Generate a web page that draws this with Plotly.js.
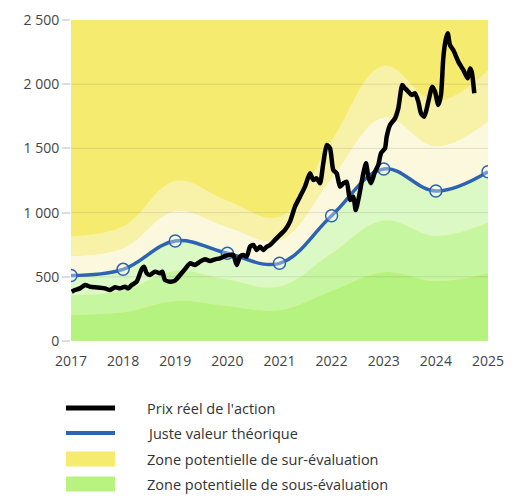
<!DOCTYPE html>
<html>
<head>
<meta charset="utf-8">
<script src="https://cdn.plot.ly/plotly-3.0.1.min.js"></script>
<style>
html,body{margin:0;padding:0;background:#fff;}
#chart{width:529px;height:500px;}
</style>
</head>
<body>
<div id="chart"></div>
<script>
// ---- Data ----
const years = [2017, 2018, 2019, 2020, 2021, 2022, 2023, 2024, 2025];
const fairValue = [510, 558, 779, 683, 605, 976, 1340, 1168, 1318];
const band40 = [204, 223, 312, 273, 242, 390, 536, 467, 527];
const band70 = [357, 391, 545, 478, 424, 683, 938, 818, 923];
const band130 = [663, 725, 1013, 888, 787, 1269, 1742, 1518, 1713];
const band160 = [816, 893, 1246, 1093, 968, 1562, 2144, 1869, 2109];

const priceX = [2017.013,2017.077,2017.173,2017.269,2017.365,2017.460,2017.556,2017.652,2017.748,2017.844,2017.940,
2018.036,2018.099,2018.165,2018.260,2018.356,2018.400,2018.452,2018.516,2018.612,2018.707,2018.752,2018.803,2018.899,2018.995,
2019.091,2019.187,2019.283,2019.379,2019.475,2019.571,2019.667,2019.763,2019.859,2019.954,
2020.050,2020.114,2020.179,2020.242,2020.306,2020.371,2020.434,2020.497,2020.563,2020.626,2020.689,2020.754,2020.818,2020.914,
2021.010,2021.106,2021.201,2021.297,2021.393,2021.489,2021.585,2021.648,2021.714,2021.777,2021.840,2021.906,2021.969,
2022.032,2022.097,2022.161,2022.224,2022.289,2022.353,2022.416,2022.462,2022.525,2022.608,2022.660,2022.704,2022.755,2022.832,2022.895,2022.947,
2023.024,2023.056,2023.120,2023.216,2023.279,2023.356,2023.408,2023.471,2023.536,2023.600,2023.663,2023.715,2023.778,2023.855,2023.931,2023.983,
2024.047,2024.098,2024.142,2024.188,2024.227,2024.271,2024.334,2024.430,2024.526,2024.611,2024.655,2024.687,2024.737];
const priceY = [384,397,410,436,423,418,415,410,397,418,410,
423,410,436,462,560,579,527,514,540,527,540,475,462,470,
514,560,605,592,618,636,623,636,644,662,
670,670,592,657,670,657,734,748,709,734,709,734,748,787,
826,865,930,1046,1124,1202,1306,1254,1267,1228,1384,1527,1501,
1332,1306,1202,1228,1241,1098,1124,1020,1124,1306,1384,1280,1228,1319,1371,1462,
1501,1590,1682,1734,1812,1994,1968,1942,1916,1929,1864,1773,1747,1864,1981,1942,
1838,1916,2202,2344,2396,2305,2266,2176,2111,2046,2122,2098,1929];

const yTicks = [0, 500, 1000, 1500, 2000, 2500];
const xTickLabels = ['2017','2018','2019','2020','2021','2022','2023','2024','2025'];

const legendLabels = ["Prix réel de l'action", "Juste valeur théorique",
  "Zone potentielle de sur-évaluation", "Zone potentielle de sous-évaluation"];

// ---- Styles ----
const C = {
  yellow: '#f4eb6f', paleYellow: '#f8f1a8', cream: '#fcf8de',
  lightGreen: '#dbf9c5', midGreen: '#c7f6a1', darkGreen: '#b6f27f',
  blue: '#2e63b2', black: '#000000', text: '#444444'
};
const FONT = '"Open Sans", Lato, sans-serif';

function band(y, color, fill){
  return {x: years, y: y, type: 'scatter', mode: 'lines', fill: fill, fillcolor: color,
    line: {width: 0, shape: 'spline', smoothing: 1.1}, hoverinfo: 'skip', showlegend: false};
}

const traces = [
  band(band40, C.darkGreen, 'tozeroy'),
  band(band70, C.midGreen, 'tonexty'),
  band(fairValue, C.lightGreen, 'tonexty'),
  band(band130, C.cream, 'tonexty'),
  band(band160, C.paleYellow, 'tonexty'),
];

// gridlines drawn over the fills
const gx = [], gy = [];
yTicks.slice(1, -1).forEach(v => { gx.push(years[0], years[years.length-1], null); gy.push(v, v, null); });
traces.push({x: gx, y: gy, type: 'scatter', mode: 'lines',
  line: {color: 'rgba(120,120,120,0.2)', width: 1}, hoverinfo: 'skip', showlegend: false});

traces.push({x: years, y: fairValue, type: 'scatter', mode: 'lines+markers',
  line: {color: C.blue, width: 3.5, shape: 'spline', smoothing: 1.1},
  marker: {symbol: 'circle', size: 12, color: 'rgba(255,255,255,0.35)', line: {color: C.blue, width: 1.5}},
  showlegend: false});

traces.push({x: priceX, y: priceY, type: 'scatter', mode: 'lines',
  line: {color: C.black, width: 4.5, shape: 'spline', smoothing: 0.6},
  showlegend: false});

// ---- Layout ----
const M = {l: 71, r: 41, t: 20, b: 159};
const W = 529, H = 500;
const pw = W - M.l - M.r, ph = H - M.t - M.b;
const px2x = p => (p - M.l) / pw;
const px2y = p => (H - M.b - p) / ph;

const shapes = [];
const annotations = [];
const legendRows = [408, 433, 459, 484];
const legendKinds = [
  {type: 'line', color: C.black, w: 5},
  {type: 'line', color: C.blue, w: 4},
  {type: 'box', color: C.yellow},
  {type: 'box', color: '#b8f27f'}
];
legendRows.forEach((cy, i) => {
  const k = legendKinds[i];
  if (k.type === 'line') {
    shapes.push({type: 'line', xref: 'paper', yref: 'paper',
      x0: px2x(66), x1: px2x(115), y0: px2y(cy), y1: px2y(cy),
      line: {color: k.color, width: k.w}});
  } else {
    shapes.push({type: 'rect', xref: 'paper', yref: 'paper',
      x0: px2x(66), x1: px2x(115), y0: px2y(cy - 7.5), y1: px2y(cy + 7.5),
      fillcolor: k.color, line: {width: 0}});
  }
  annotations.push({xref: 'paper', yref: 'paper', x: px2x(145), y: px2y(cy),
    xanchor: 'left', yanchor: 'middle', showarrow: false, text: legendLabels[i],
    font: {family: FONT, size: 14.5, color: '#333333'}});
});

const layout = {
  width: W, height: H,
  margin: M,
  paper_bgcolor: '#ffffff',
  plot_bgcolor: C.yellow,
  separators: ', ',
  showlegend: false,
  font: {family: FONT, size: 14, color: C.text},
  xaxis: {range: [2017, 2025], tickvals: years, ticktext: xTickLabels,
    showgrid: false, zeroline: false, showline: false, ticks: '', ticklabelstandoff: 10,
    tickfont: {family: FONT, size: 14, color: C.text}, fixedrange: true},
  yaxis: {range: [0, 2500], tickvals: yTicks, tickformat: ',d',
    showgrid: false, zeroline: false, showline: false,
    ticks: 'outside', ticklen: 8, tickcolor: '#dddddd', tickwidth: 2,
    tickfont: {family: FONT, size: 14, color: C.text}, fixedrange: true},
  shapes: shapes,
  annotations: annotations
};

Plotly.newPlot('chart', traces, layout, {displayModeBar: false, staticPlot: true});
</script>
</body>
</html>
